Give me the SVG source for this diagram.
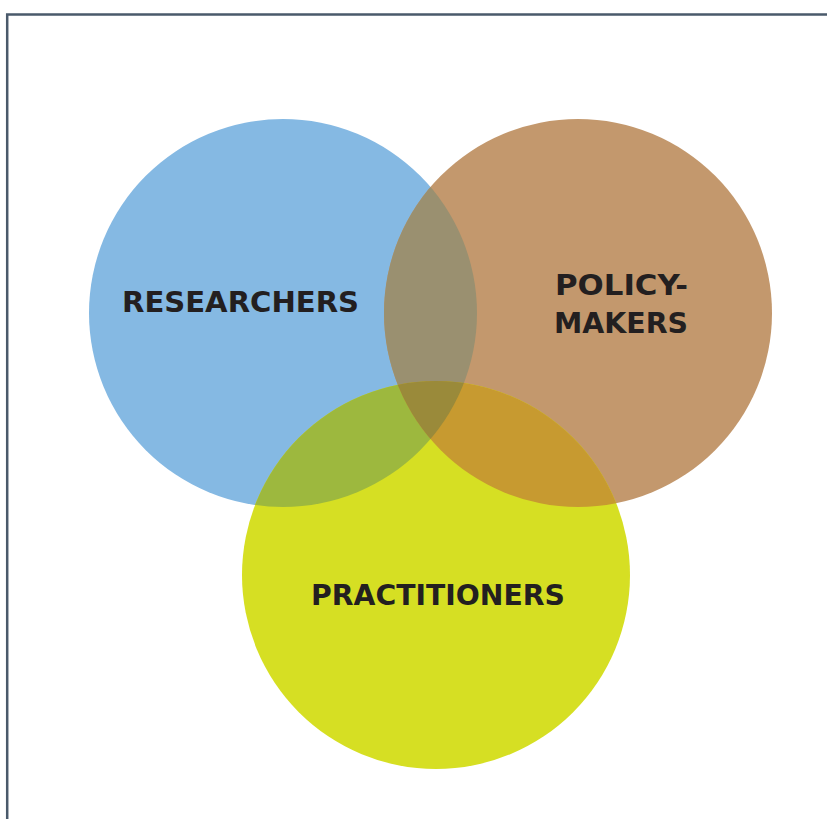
<svg xmlns="http://www.w3.org/2000/svg" width="827" height="819" viewBox="0 0 827 819">
<style>
.lbl{font-family:"DejaVu Sans","Liberation Sans",Arial,sans-serif;font-weight:bold;font-size:28.5px;fill:#231f20;text-anchor:middle}
</style>
<defs>
<clipPath id="cB"><circle cx="283" cy="313" r="194"/></clipPath>
<clipPath id="cP"><circle cx="578" cy="313" r="194"/></clipPath>
<clipPath id="cY"><circle cx="436" cy="575" r="194"/></clipPath>
</defs>
<rect width="827" height="819" fill="#ffffff"/>
<g id="frame">
<path d="M7.2 819 V14.5 H827" fill="none" stroke="#4a5a6b" stroke-width="2.5"/>
</g>
<g id="researchers">
<circle cx="283" cy="313" r="194" fill="#85b9e3"/>
</g>
<g id="policy-makers">
<circle cx="578" cy="313" r="194" fill="#c3986d"/>
</g>
<g id="practitioners">
<circle cx="436" cy="575" r="194" fill="#d6df23"/>
</g>
<g id="overlaps">
<g clip-path="url(#cB)"><circle cx="578" cy="313" r="194" fill="#9a9070"/></g>
<g clip-path="url(#cB)"><circle cx="436" cy="575" r="194" fill="#9db83e"/></g>
<g clip-path="url(#cP)"><circle cx="436" cy="575" r="194" fill="#c79a30"/></g>
<g clip-path="url(#cB)"><g clip-path="url(#cP)"><circle cx="436" cy="575" r="194" fill="#9a8a3a"/></g></g>
</g>
<g id="labels">
<text class="lbl" x="240.5" y="312" textLength="237" lengthAdjust="spacingAndGlyphs">RESEARCHERS</text>
<text class="lbl" x="621.5" y="295" textLength="133" lengthAdjust="spacingAndGlyphs">POLICY-</text>
<text class="lbl" x="621" y="333" textLength="134" lengthAdjust="spacingAndGlyphs">MAKERS</text>
<text class="lbl" x="438" y="605" textLength="254" lengthAdjust="spacingAndGlyphs">PRACTITIONERS</text>
</g>
</svg>
